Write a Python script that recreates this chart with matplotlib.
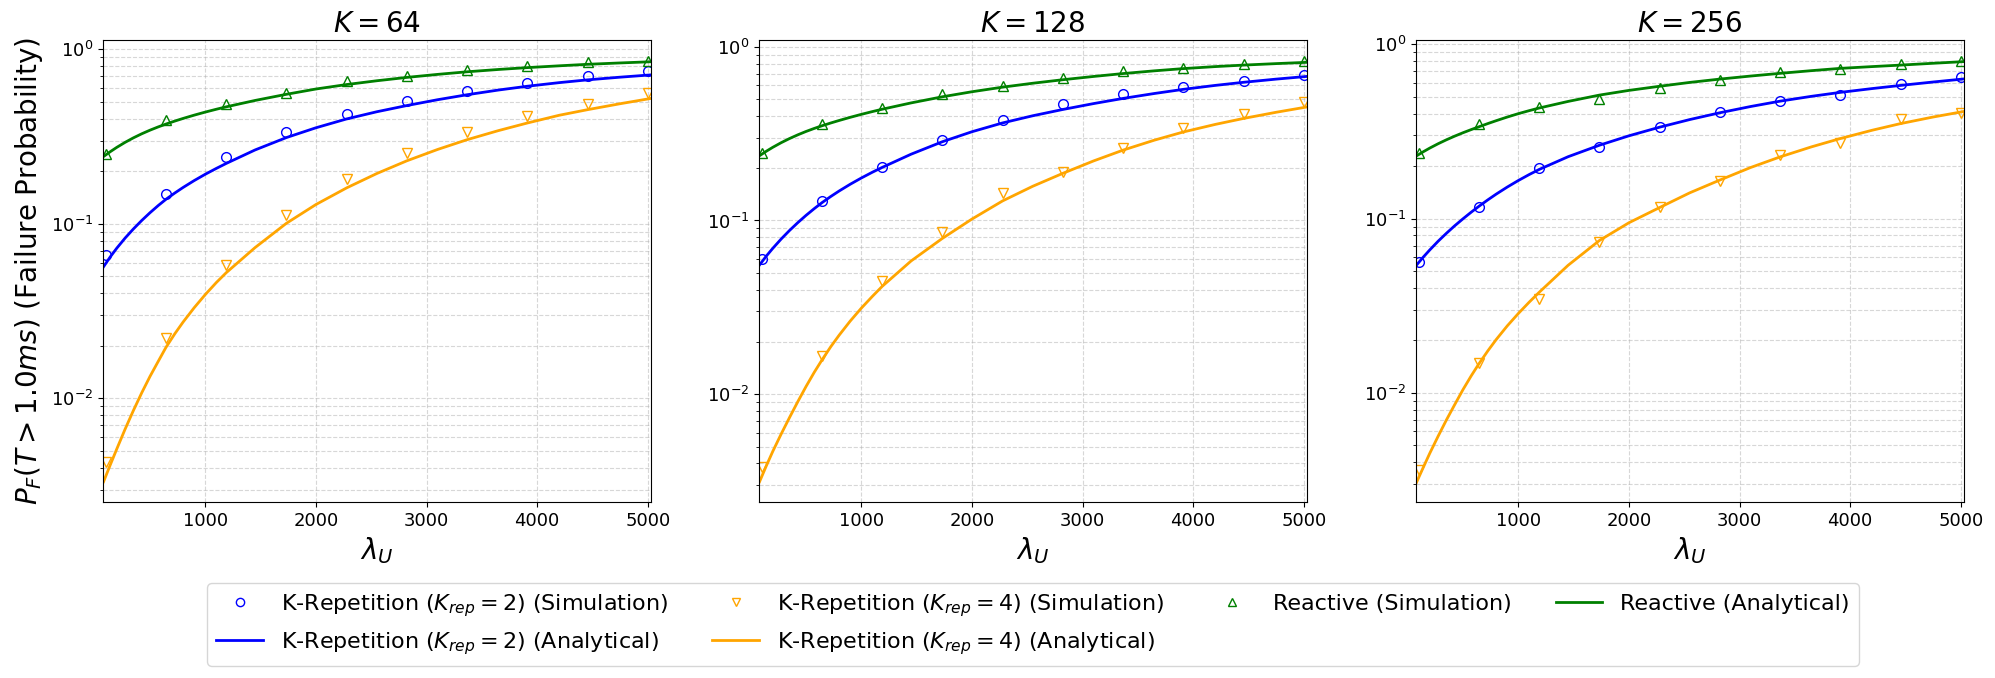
import numpy as np
import matplotlib.pyplot as plt

# simulation points (lambda_U)
lam_sim = [100, 644, 1189, 1733, 2278, 2822, 3367, 3911, 4456, 5000]
# points
lam_ana = [80, 140, 200, 275, 350, 425, 500, 575, 644, 725, 800, 900, 1000, 1100,
           1189, 1450, 1733, 2000, 2278, 2550, 2822, 3100, 3367, 3650, 3911, 4200,
           4456, 4750, 5025]

K_values = [64, 128, 256]

# K = 64
rep2_sim_64 = [0.0663, 0.1476, 0.2405, 0.334, 0.424, 0.503, 0.577, 0.638, 0.700, 0.751]
rep4_sim_64 = [0.00433, 0.0222, 0.0581, 0.112, 0.181, 0.2535, 0.334, 0.415, 0.484, 0.564]
react_sim_64 = [0.251, 0.394, 0.486, 0.564, 0.656, 0.703, 0.757, 0.802, 0.842, 0.853]
rep2_ana_64 = [0.0568, 0.0646, 0.0726, 0.0829, 0.0935, 0.1045, 0.1158, 0.1274, 0.1382,
               0.1503, 0.1617, 0.1770, 0.1924, 0.2078, 0.2218, 0.2650, 0.3120, 0.3550,
               0.3990, 0.4385, 0.4760, 0.5140, 0.5490, 0.5840, 0.6140, 0.6440, 0.6680,
               0.6920, 0.7130]
rep4_ana_64 = [0.00333, 0.00415, 0.00514, 0.00667, 0.00853, 0.01076, 0.01337, 0.01633,
               0.01959, 0.0235, 0.02742, 0.03311, 0.03936, 0.04613, 0.05248, 0.07311,
               0.1007, 0.129, 0.1607, 0.1941, 0.2296, 0.2667, 0.3034, 0.342, 0.378,
               0.4188, 0.4508, 0.4875, 0.5224]
react_ana_64 = [0.243, 0.2588, 0.2743, 0.2930, 0.3109, 0.3279, 0.3440, 0.3593, 0.3728,
                0.3880, 0.4017, 0.4195, 0.4367, 0.4534, 0.4679, 0.5091, 0.5521, 0.592,
                0.628, 0.660, 0.690, 0.718, 0.743, 0.766, 0.785, 0.804, 0.820, 0.835,
                0.848]

# K = 128
rep2_sim_128 = [0.0600, 0.1295, 0.203, 0.290, 0.379, 0.466, 0.532, 0.584, 0.635, 0.687]
rep4_sim_128 = [0.0038, 0.0166, 0.0449, 0.0862, 0.1445, 0.191, 0.262, 0.342, 0.410, 0.483]
react_sim_128 = [0.2455, 0.359, 0.446, 0.535, 0.597, 0.658, 0.725, 0.751, 0.795, 0.828]
rep2_ana_128 = [0.0555, 0.0623, 0.0692, 0.0782, 0.0875, 0.0971, 0.1070, 0.1171, 0.1266,
                0.1376, 0.1479, 0.1617, 0.1756, 0.1896, 0.2021, 0.2407, 0.2840, 0.3241,
                0.3644, 0.4006, 0.4354, 0.4707, 0.5041, 0.5381, 0.5684, 0.5990, 0.6241,
                0.6509, 0.6743]
rep4_ana_128 = [0.00314, 0.00386, 0.00470, 0.00590, 0.00733, 0.00905, 0.01108, 0.0134,
                0.01575, 0.01883, 0.0219, 0.0264, 0.0313, 0.0366, 0.0418, 0.0585, 0.0789,
                0.1019, 0.1297, 0.1574, 0.1868, 0.2202, 0.2541, 0.2900, 0.3231, 0.3572,
                0.3866, 0.4195, 0.4497]
react_ana_128 = [0.236, 0.2501, 0.2638, 0.2803, 0.2960, 0.3110, 0.3253, 0.3388, 0.3507,
                 0.3642, 0.3764, 0.3924, 0.4081, 0.4234, 0.4368, 0.4749, 0.5151, 0.5506,
                 0.5853, 0.6163, 0.6457, 0.6743, 0.7007, 0.7265, 0.7482, 0.7684, 0.7838,
                 0.7994, 0.8129]

# K = 256
rep2_sim_256 = [0.0565, 0.117, 0.194, 0.258, 0.334, 0.407, 0.471, 0.514, 0.589, 0.647]
rep4_sim_256 = [0.0036, 0.01475, 0.0345, 0.0736, 0.117, 0.164, 0.2314, 0.270, 0.371, 0.402]
react_sim_256 = [0.2367, 0.349, 0.4385, 0.485, 0.5635, 0.621, 0.690, 0.722, 0.767, 0.799]
rep2_ana_256 = [0.0541, 0.0600, 0.0661, 0.0741, 0.0823, 0.0909, 0.0997, 0.1089, 0.1176,
                0.1281, 0.1381, 0.1516, 0.1653, 0.1791, 0.1914, 0.2264, 0.2635, 0.2985,
                0.3346, 0.3700, 0.4048, 0.4396, 0.4719, 0.5030, 0.5299, 0.5574, 0.5810,
                0.6078, 0.6326]
rep4_ana_256 = [0.00306, 0.00372, 0.00450, 0.00563, 0.00698, 0.00855, 0.01043, 0.01253,
                0.01467, 0.01742, 0.0202, 0.0242, 0.0285, 0.0332, 0.03774, 0.0539, 0.0748,
                0.0946, 0.1157, 0.1405, 0.1663, 0.1963, 0.2259, 0.2579, 0.2879, 0.3214,
                0.3508, 0.3826, 0.4115]
react_ana_256 = [0.229, 0.2416, 0.2539, 0.2688, 0.2832, 0.2972, 0.3109, 0.3242, 0.3363,
                 0.351, 0.3645, 0.3825, 0.400, 0.4165, 0.431, 0.4702, 0.5112, 0.5440,
                 0.5746, 0.6045, 0.6317, 0.6576, 0.6816, 0.7062, 0.7279, 0.7452, 0.7600,
                 0.7785, 0.7956]

sims = [(rep2_sim_64, rep4_sim_64, react_sim_64),
        (rep2_sim_128, rep4_sim_128, react_sim_128),
        (rep2_sim_256, rep4_sim_256, react_sim_256)]
anas = [(rep2_ana_64, rep4_ana_64, react_ana_64),
        (rep2_ana_128, rep4_ana_128, react_ana_128),
        (rep2_ana_256, rep4_ana_256, react_ana_256)]
ylims = [(0.00255, 1.13), (0.0024, 1.093), (0.00236, 1.059)]

fig = plt.figure(figsize=(19.95, 6.78), dpi=100)
W, H = 1995, 678
lefts = [103, 759, 1416]
axes = [fig.add_axes([l / W, (H - 502) / H, 547.5 / W, 462 / H]) for l in lefts]

for i, ax in enumerate(axes):
    r2s, r4s, rs = sims[i]
    r2a, r4a, ra = anas[i]
    ax.plot(lam_sim, r2s, 'o', color='blue', mfc='none', ms=7,
            label=r'K-Repetition ($K_{rep} = 2$) (Simulation)')
    ax.plot(lam_ana, r2a, '-', color='blue', lw=2,
            label=r'K-Repetition ($K_{rep} = 2$) (Analytical)')
    ax.plot(lam_sim, r4s, 'v', color='orange', mfc='none', ms=7,
            label=r'K-Repetition ($K_{rep} = 4$) (Simulation)')
    ax.plot(lam_ana, r4a, '-', color='orange', lw=2,
            label=r'K-Repetition ($K_{rep} = 4$) (Analytical)')
    ax.plot(lam_sim, rs, '^', color='green', mfc='none', ms=7,
            label='Reactive (Simulation)')
    ax.plot(lam_ana, ra, '-', color='green', lw=2,
            label='Reactive (Analytical)')

    ax.set_yscale('log')
    ax.set_xlim(75, 5025)
    ax.set_ylim(*ylims[i])
    ax.set_xticks([1000, 2000, 3000, 4000, 5000])
    ax.grid(True, which='both', linestyle='--', alpha=0.5)
    ax.tick_params(labelsize=13)
    ax.set_title(r'$K = %d$' % K_values[i], fontsize=20)
    ax.set_xlabel(r'$\lambda_U$', fontsize=20)

axes[0].set_ylabel(r'$P_F(T > 1.0ms)$ (Failure Probability)', fontsize=20)

handles, labels = axes[0].get_legend_handles_labels()
fig.legend(handles, labels, loc='upper center', ncol=4, fontsize=16,
           handlelength=2.1, markerscale=0.85,
           bbox_to_anchor=(1033 / W, 1 - 572 / H))

fig.savefig('out.png', dpi=100)
